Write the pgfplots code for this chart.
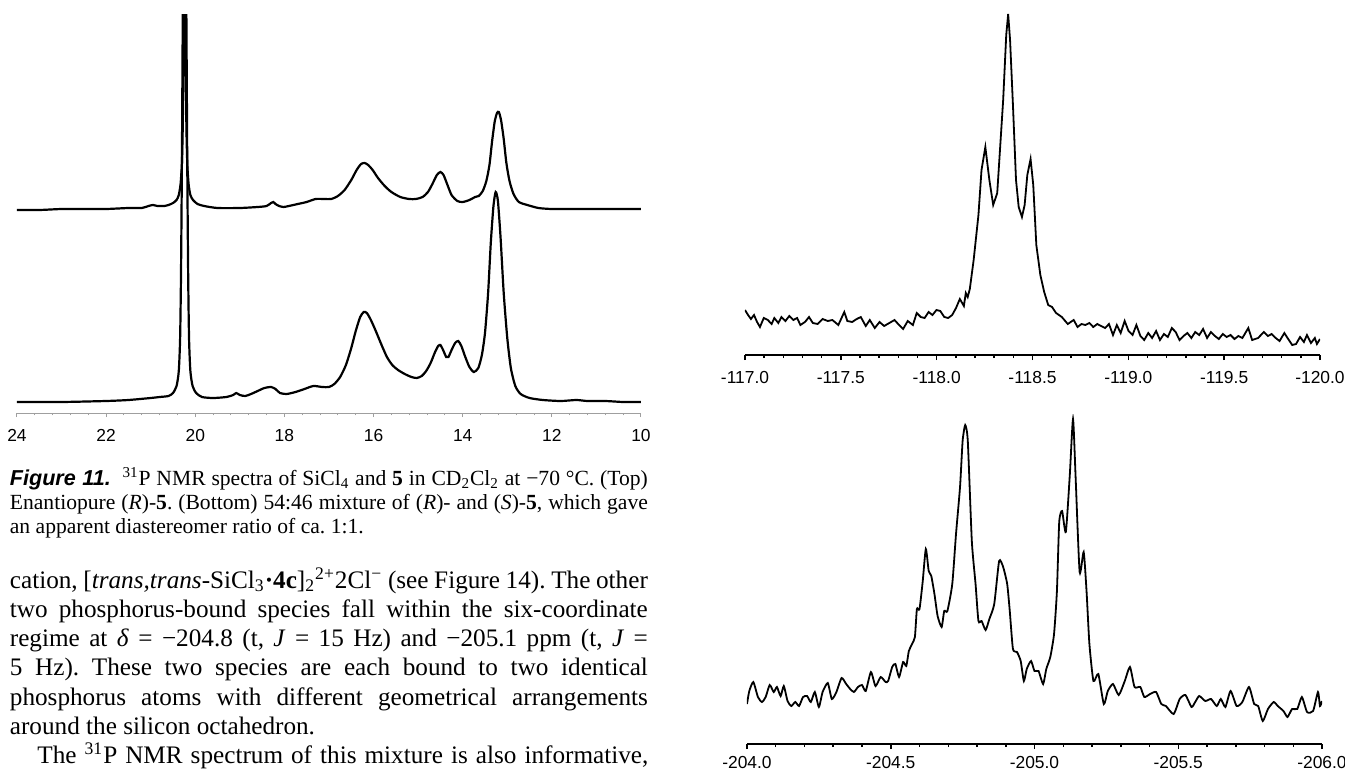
\documentclass[border=0pt]{standalone}
\usepackage{fontspec}
\setmainfont{Liberation Serif}
\setsansfont{Liberation Sans}
\usepackage{pgfplots}
\pgfplotsset{compat=1.18}
\frenchspacing
\newcommand\capfont{\fontsize{10.8}{12}\selectfont}
\newcommand\bodyfont{\fontsize{12.6}{14.6}\selectfont}
\pgfplotsset{nmr/.style={scale only axis, axis x line=bottom, axis y line=none,
  x axis line style={-}, x dir=reverse, tick align=outside,
  ytick=\empty, minor tick num=4,
  xticklabel style={font=\sffamily\fontsize{8.7}{10}\selectfont, anchor=base, inner sep=0pt},
  clip=true}}
\begin{document}
\begin{tikzpicture}[x=0.5pt,y=-0.5pt]
\useasboundingbox (0,0) rectangle (1345,771);
% ---------------- left spectra ----------------
\begin{axis}[nmr, at={(8.5pt,-206.5pt)}, anchor=south west,
  width=312pt, height=199.5pt, xmin=10, xmax=24, ymin=0, ymax=399,
  xtick={10,12,14,16,18,20,22,24}, xticklabels={10,12,14,16,18,20,22,24},
  axis line style={gray!75, line width=0.5pt},
  major tick style={gray!75, line width=0.5pt}, minor tick style={gray!75, line width=0.5pt},
  major tick length=2pt, minor tick length=1.2pt,
  xticklabel style={yshift=-12pt}]
\addplot[black, line width=1.1pt, smooth, tension=0.4] coordinates {
(24.00,203)(23.50,203)(23.00,204)(22.50,204)(22.00,204)(21.50,205)(21.20,205)(21.05,207)(20.95,208)(20.85,207)
(20.70,207)(20.60,208)(20.50,210)(20.42,213)(20.37,218)(20.33,229)(20.30,250)(20.28,290)(20.26,380)(20.25,500)
(20.23,500)(20.22,380)(20.20,290)(20.18,250)(20.15,229)(20.11,218)(20.05,213)(19.95,209)(19.80,207)(19.50,205)
(19.00,205)(18.60,206)(18.40,207)(18.30,210)(18.25,211)(18.20,209)(18.12,207)(18.02,206)(17.90,207)(17.70,209)
(17.50,211)(17.30,214)(17.10,214)(16.95,214)(16.80,217)(16.65,223)(16.50,233)(16.38,243)(16.28,249)(16.20,250)
(16.12,248)(16.02,243)(15.90,235)(15.75,227)(15.60,221)(15.40,216)(15.20,214)(15.05,214)(14.90,216)(14.78,221)
(14.68,229)(14.58,238)(14.50,241)(14.43,238)(14.35,229)(14.25,218)(14.12,212)(14.00,211)(13.85,213)(13.72,216)
(13.64,217)(13.55,222)(13.47,232)(13.40,248)(13.34,272)(13.28,292)(13.23,300)(13.19,301)(13.14,293)(13.08,274)
(13.02,250)(12.95,232)(12.86,219)(12.74,211)(12.55,208)(12.30,205)(12.00,204)(11.50,204)(11.00,204)(10.50,204)(10.00,204)};
\addplot[black, line width=1.1pt, smooth, tension=0.4] coordinates {
(24.00,11)(23.00,11)(22.00,12)(21.50,13)(21.00,15)(20.80,16)(20.60,17)(20.50,20)(20.42,27)(20.37,42)
(20.34,75)(20.32,140)(20.30,250)(20.28,400)(20.26,500)(20.22,500)(20.20,400)(20.18,250)(20.16,140)(20.14,75)
(20.11,42)(20.06,27)(19.98,20)(19.85,16)(19.60,15)(19.30,16)(19.15,18)(19.08,20)(19.00,18)(18.88,17)
(18.75,19)(18.60,22)(18.45,25)(18.30,26)(18.20,24)(18.10,20)(17.95,19)(17.75,21)(17.55,24)(17.35,27)
(17.15,26)(17.00,26)(16.88,29)(16.75,36)(16.62,48)(16.50,65)(16.40,82)(16.30,96)(16.22,101)(16.15,100)
(16.06,93)(15.95,82)(15.82,68)(15.70,56)(15.58,48)(15.45,43)(15.30,39)(15.15,36)(15.03,35)(14.92,37)
(14.82,42)(14.72,50)(14.62,61)(14.55,67)(14.50,68)(14.44,63)(14.37,56)(14.32,56)(14.25,63)(14.17,70)
(14.10,72)(14.03,67)(13.95,57)(13.85,46)(13.75,41)(13.65,45)(13.57,58)(13.50,80)(13.43,120)(13.37,170)
(13.31,207)(13.26,221)(13.21,212)(13.15,175)(13.08,120)(13.00,75)(12.92,45)(12.82,27)(12.70,19)(12.50,15)
(12.20,13)(11.80,12)(11.45,13)(11.20,12)(10.80,12)(10.40,11)(10.00,11)};
\end{axis}
% ---------------- right top ----------------
\begin{axis}[nmr, at={(372.5pt,-177.5pt)}, anchor=south west,
  width=287.5pt, height=172.5pt, xmin=-120, xmax=-117, ymin=0, ymax=345,
  xtick={-120,-119.5,-119,-118.5,-118,-117.5,-117},
  xticklabels={-120.0,-119.5,-119.0,-118.5,-118.0,-117.5,-117.0},
  axis line style={black, line width=0.75pt},
  major tick style={black, line width=0.75pt}, minor tick style={black, line width=0.75pt},
  major tick length=2.5pt, minor tick length=1.6pt,
  xticklabel style={yshift=-11.5pt}]
\addplot[black, line width=0.9pt] coordinates {
(-117.000,45)(-117.016,40)(-117.031,36)(-117.047,40)(-117.063,33)(-117.078,28)(-117.098,37)(-117.119,35)(-117.139,31)(-117.153,37)
(-117.174,32)(-117.190,38)(-117.211,34)(-117.231,39)(-117.252,35)(-117.272,37)(-117.289,30)(-117.313,33)(-117.334,38)(-117.354,32)
(-117.379,31)(-117.405,36)(-117.432,34)(-117.456,35)(-117.487,30)(-117.518,43)(-117.534,34)(-117.559,33)(-117.583,36)(-117.604,38)
(-117.630,29)(-117.651,35)(-117.677,27)(-117.702,33)(-117.726,29)(-117.753,32)(-117.780,35)(-117.804,30)(-117.825,26)(-117.849,34)
(-117.876,30)(-117.896,42)(-117.917,38)(-117.937,37)(-117.958,43)(-117.978,40)(-117.999,45)(-118.019,44)(-118.040,38)(-118.060,37)
(-118.081,40)(-118.101,47)(-118.121,56)(-118.142,49)(-118.152,62)(-118.162,58)(-118.173,66)(-118.193,95)(-118.218,140)(-118.234,185)
(-118.254,208)(-118.275,175)(-118.295,150)(-118.316,162)(-118.332,210)(-118.347,255)(-118.363,320)(-118.373,341)(-118.383,315)(-118.398,250)
(-118.414,175)(-118.428,148)(-118.445,138)(-118.459,150)(-118.473,180)(-118.490,196)(-118.504,170)(-118.520,110)(-118.541,80)(-118.561,63)
(-118.582,50)(-118.602,48)(-118.623,42)(-118.653,38)(-118.684,31)(-118.715,35)(-118.735,28)(-118.756,31)(-118.776,30)(-118.797,32)
(-118.817,28)(-118.838,31)(-118.858,29)(-118.879,27)(-118.899,31)(-118.920,20)(-118.940,30)(-118.960,22)(-118.981,34)(-119.001,24)
(-119.022,20)(-119.042,30)(-119.063,19)(-119.083,15)(-119.104,22)(-119.124,17)(-119.145,24)(-119.165,15)(-119.186,21)(-119.206,18)
(-119.227,27)(-119.247,23)(-119.267,15)(-119.288,19)(-119.308,22)(-119.329,17)(-119.349,23)(-119.370,20)(-119.390,26)(-119.411,17)
(-119.431,23)(-119.452,19)(-119.472,16)(-119.493,21)(-119.513,18)(-119.533,20)(-119.554,16)(-119.574,19)(-119.595,17)(-119.626,27)
(-119.646,15)(-119.677,17)(-119.707,23)(-119.728,19)(-119.748,21)(-119.769,17)(-119.789,14)(-119.814,22)(-119.834,16)(-119.855,10)
(-119.875,11)(-119.896,18)(-119.916,13)(-119.932,20)(-119.953,12)(-119.973,17)(-119.984,11)(-120.000,16)};
\end{axis}
% ---------------- right bottom ----------------
\begin{axis}[nmr, at={(373.5pt,-372pt)}, anchor=south west,
  width=287.5pt, height=165pt, xmin=-206, xmax=-204, ymin=0, ymax=330,
  xtick={-206,-205.5,-205,-204.5,-204},
  xticklabels={-206.0,-205.5,-205.0,-204.5,-204.0},
  axis line style={black, line width=0.75pt},
  major tick style={black, line width=0.75pt}, minor tick style={black, line width=0.75pt},
  major tick length=2.5pt, minor tick length=1.6pt,
  xticklabel style={yshift=-9.5pt}]
\addplot[black, line width=0.9pt, smooth, tension=0.35] coordinates {
(-204.000,40)(-204.008,53)(-204.022,62)(-204.038,47)(-204.052,42)(-204.065,47)(-204.079,59)(-204.093,52)(-204.104,57)(-204.117,48)
(-204.128,58)(-204.141,43)(-204.154,38)(-204.168,42)(-204.181,38)(-204.195,47)(-204.209,48)(-204.222,42)(-204.236,52)(-204.250,37)
(-204.263,52)(-204.281,61)(-204.295,45)(-204.311,52)(-204.329,66)(-204.345,60)(-204.359,55)(-204.372,52)(-204.386,57)(-204.400,59)
(-204.413,53)(-204.431,72)(-204.447,58)(-204.465,67)(-204.482,62)(-204.491,63)(-204.505,77)(-204.516,80)(-204.529,67)(-204.543,82)
(-204.554,78)(-204.563,93)(-204.574,100)(-204.584,107)(-204.591,135)(-204.600,135)(-204.611,162)(-204.622,195)(-204.632,173)(-204.641,168)
(-204.652,150)(-204.663,128)(-204.677,117)(-204.686,133)(-204.697,133)(-204.714,160)(-204.727,210)(-204.741,257)(-204.750,303)(-204.759,319)
(-204.768,303)(-204.782,203)(-204.795,160)(-204.805,123)(-204.816,123)(-204.830,114)(-204.843,125)(-204.860,140)(-204.877,183)(-204.891,177)
(-204.905,160)(-204.914,133)(-204.925,95)(-204.939,92)(-204.952,83)(-204.963,63)(-204.973,75)(-204.988,83)(-205.000,73)(-205.014,73)
(-205.030,60)(-205.041,75)(-205.055,87)(-205.068,110)(-205.078,153)(-205.086,222)(-205.096,233)(-205.109,212)(-205.123,270)(-205.134,325)
(-205.143,267)(-205.157,172)(-205.171,192)(-205.181,153)(-205.191,100)(-205.205,63)(-205.222,70)(-205.241,40)(-205.255,53)(-205.273,60)
(-205.293,49)(-205.314,63)(-205.332,77)(-205.348,57)(-205.368,57)(-205.382,47)(-205.402,50)(-205.423,52)(-205.441,40)(-205.457,38)
(-205.484,30)(-205.505,45)(-205.525,49)(-205.546,37)(-205.559,42)(-205.573,48)(-205.594,43)(-205.614,45)(-205.634,38)(-205.648,45)
(-205.664,37)(-205.682,53)(-205.703,38)(-205.723,42)(-205.746,57)(-205.764,40)(-205.778,38)(-205.794,23)(-205.812,35)(-205.832,42)
(-205.846,38)(-205.866,33)(-205.880,27)(-205.896,35)(-205.914,35)(-205.930,47)(-205.948,32)(-205.969,33)(-205.986,52)(-205.993,38)(-206.000,43)};
\end{axis}
% ---------------- caption ----------------
\node[anchor=base west, inner sep=0pt] at (9.5,485) {\capfont\makebox[319pt][s]{{\sffamily\bfseries\itshape Figure 11.}\ \ \textsuperscript{31}P NMR spectra of SiCl\textsubscript{4} and \textbf{5} in CD\textsubscript{2}Cl\textsubscript{2} at −70 °C. (Top)}};
\node[anchor=base west, inner sep=0pt] at (9.5,509) {\capfont\makebox[319pt][s]{Enantiopure (\textit{R})-\textbf{5}. (Bottom) 54:46 mixture of (\textit{R})- and (\textit{S})-\textbf{5}, which gave}};
\node[anchor=base west, inner sep=0pt] at (9.5,533) {\capfont an apparent diastereomer ratio of ca. 1:1.};
% ---------------- body text ----------------
\node[anchor=base west, inner sep=0pt] at (9.5,588) {\bodyfont\makebox[319pt][s]{cation, [\textit{trans,trans}-SiCl\textsubscript{3}\textbf{·}\textbf{4c}]\textsubscript{2}\textsuperscript{2+}2Cl\textsuperscript{−} (see Figure 14). The other}};
\node[anchor=base west, inner sep=0pt] at (9.5,617) {\bodyfont\makebox[319pt][s]{two phosphorus-bound species fall within the six-coordinate}};
\node[anchor=base west, inner sep=0pt] at (9.5,646) {\bodyfont\makebox[319pt][s]{regime at \textit{δ} = −204.8 (t, \textit{J} = 15 Hz) and −205.1 ppm (t, \textit{J} =}};
\node[anchor=base west, inner sep=0pt] at (9.5,675.5) {\bodyfont\makebox[319pt][s]{5 Hz). These two species are each bound to two identical}};
\node[anchor=base west, inner sep=0pt] at (9.5,705) {\bodyfont\makebox[319pt][s]{phosphorus atoms with different geometrical arrangements}};
\node[anchor=base west, inner sep=0pt] at (9.5,734) {\bodyfont around the silicon octahedron.};
\node[anchor=base west, inner sep=0pt] at (37,763) {\bodyfont\makebox[305.5pt][s]{The \textsuperscript{31}P NMR spectrum of this mixture is also informative,}};
\end{tikzpicture}
\end{document}
